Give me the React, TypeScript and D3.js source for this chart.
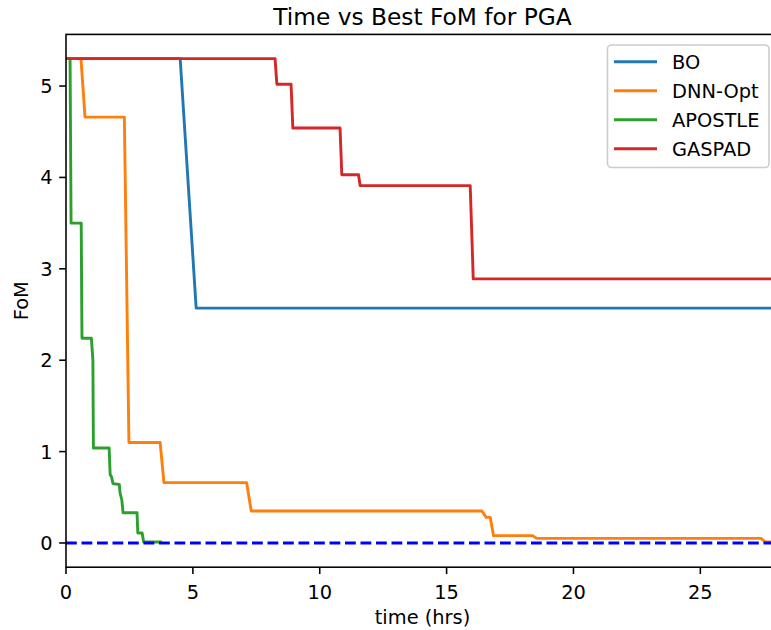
import React from "react";
import * as d3 from "d3";

const boT = [0, 4.5, 5.13, 28.2];
const boV = [5.3, 5.3, 2.57, 2.57];

const dnnT = [0, 0.59, 0.75, 2.3, 2.48, 3.71, 3.86, 7.12, 7.3, 16.39, 16.56, 16.72, 16.85, 18.39, 18.55, 27.39, 27.56, 28.2];
const dnnV = [5.3, 5.3, 4.66, 4.66, 1.1, 1.1, 0.66, 0.66, 0.35, 0.35, 0.28, 0.28, 0.08, 0.08, 0.05, 0.05, 0.01, 0.01];

const apoT = [0, 0.16, 0.2, 0.6, 0.62, 0.63, 1.0, 1.06, 1.08, 1.7, 1.74, 1.8, 1.85, 2.1, 2.13, 2.2, 2.25, 2.8, 2.83, 3.0, 3.06, 3.72];
const apoV = [5.3, 5.3, 3.5, 3.5, 2.6, 2.24, 2.24, 2.0, 1.04, 1.04, 0.75, 0.72, 0.65, 0.64, 0.55, 0.47, 0.33, 0.33, 0.11, 0.11, 0.01, 0.01];

const gasT = [0, 8.24, 8.31, 8.87, 8.94, 10.8, 10.87, 11.53, 11.59, 15.93, 16.05, 28.2];
const gasV = [5.3, 5.3, 5.02, 5.02, 4.54, 4.54, 4.03, 4.03, 3.91, 3.91, 2.89, 2.89];

const seriesNames = ["BO", "DNN-Opt", "APOSTLE", "GASPAD"];
const seriesColors = ["#1f77b4", "#ff7f0e", "#2ca02c", "#d62728"];
const xTicks = [0, 5, 10, 15, 20, 25];
const yTicks = [0, 1, 2, 3, 4, 5];

const W = 771;
const H = 630;
const FONT = "DejaVu Sans, sans-serif";

export default function App() {
  const left = 66, right = 779, top = 34.4, bottom = 567.2;
  const x = d3.scaleLinear().domain([0, 28.1]).range([left, right]);
  const y = d3.scaleLinear().domain([-0.265, 5.565]).range([bottom, top]);
  const line = d3
    .line<[number, number]>()
    .x((d) => x(d[0]))
    .y((d) => y(d[1]));
  const all = [
    [boT, boV],
    [dnnT, dnnV],
    [apoT, apoV],
    [gasT, gasV],
  ];
  const lw = 2.9;
  const fs = 19.4;
  return (
    <svg
      width={W}
      height={H}
      style={{ position: "absolute", left: 0, top: 0, background: "#fff" }}
      fontFamily={FONT}
    >
      <rect x={0} y={0} width={W} height={H} fill="#fff" />
      <defs>
        <clipPath id="plotclip">
          <rect x={left} y={top} width={right - left} height={bottom - top} />
        </clipPath>
      </defs>
      <g clipPath="url(#plotclip)">
        {all.map(([ts, vs], i) => (
          <path
            key={i}
            d={line(ts.map((t, j) => [t, vs[j]] as [number, number])) || ""}
            fill="none"
            stroke={seriesColors[i]}
            strokeWidth={lw}
            strokeLinejoin="round"
            strokeLinecap="square"
          />
        ))}
        <line
          x1={left}
          x2={right}
          y1={y(0)}
          y2={y(0)}
          stroke="#0000ff"
          strokeWidth={lw}
          strokeDasharray="10.8 4.7"
        />
      </g>
      {/* spines */}
      <rect x={left} y={top} width={right - left} height={bottom - top} fill="none" stroke="#000" strokeWidth={1.56} />
      {xTicks.map((t) => (
        <g key={t}>
          <line x1={x(t)} x2={x(t)} y1={bottom} y2={bottom + 6.8} stroke="#000" strokeWidth={1.56} />
          <text x={x(t)} y={599} fontSize={fs} textAnchor="middle" fill="#000">
            {t}
          </text>
        </g>
      ))}
      {yTicks.map((t) => (
        <g key={t}>
          <line x1={left - 6.8} x2={left} y1={y(t)} y2={y(t)} stroke="#000" strokeWidth={1.56} />
          <text x={52.5} y={y(t) + 7} fontSize={fs} textAnchor="end" fill="#000">
            {t}
          </text>
        </g>
      ))}
      <text x={(left + right) / 2} y={624} fontSize={fs} textAnchor="middle" fill="#000">
        time (hrs)
      </text>
      <text
        transform={`translate(28, ${(top + bottom) / 2}) rotate(-90)`}
        fontSize={fs}
        textAnchor="middle"
        fill="#000"
      >
        FoM
      </text>
      <text x={(left + right) / 2} y={25} fontSize={23.3} textAnchor="middle" fill="#000">
        Time vs Best FoM for PGA
      </text>
      {/* legend */}
      <rect x={607.5} y={45} width={161.5} height={122.5} rx={4} ry={4} fill="#fff" fillOpacity={0.8} stroke="#cccccc" strokeWidth={1.56} />
      {seriesNames.map((n, i) => {
        const cy = 61.7 + i * 29;
        return (
          <g key={n}>
            <line x1={614} x2={657} y1={cy} y2={cy} stroke={seriesColors[i]} strokeWidth={lw} />
            <text x={672} y={cy + 7} fontSize={fs} fill="#000">
              {n}
            </text>
          </g>
        );
      })}
    </svg>
  );
}
